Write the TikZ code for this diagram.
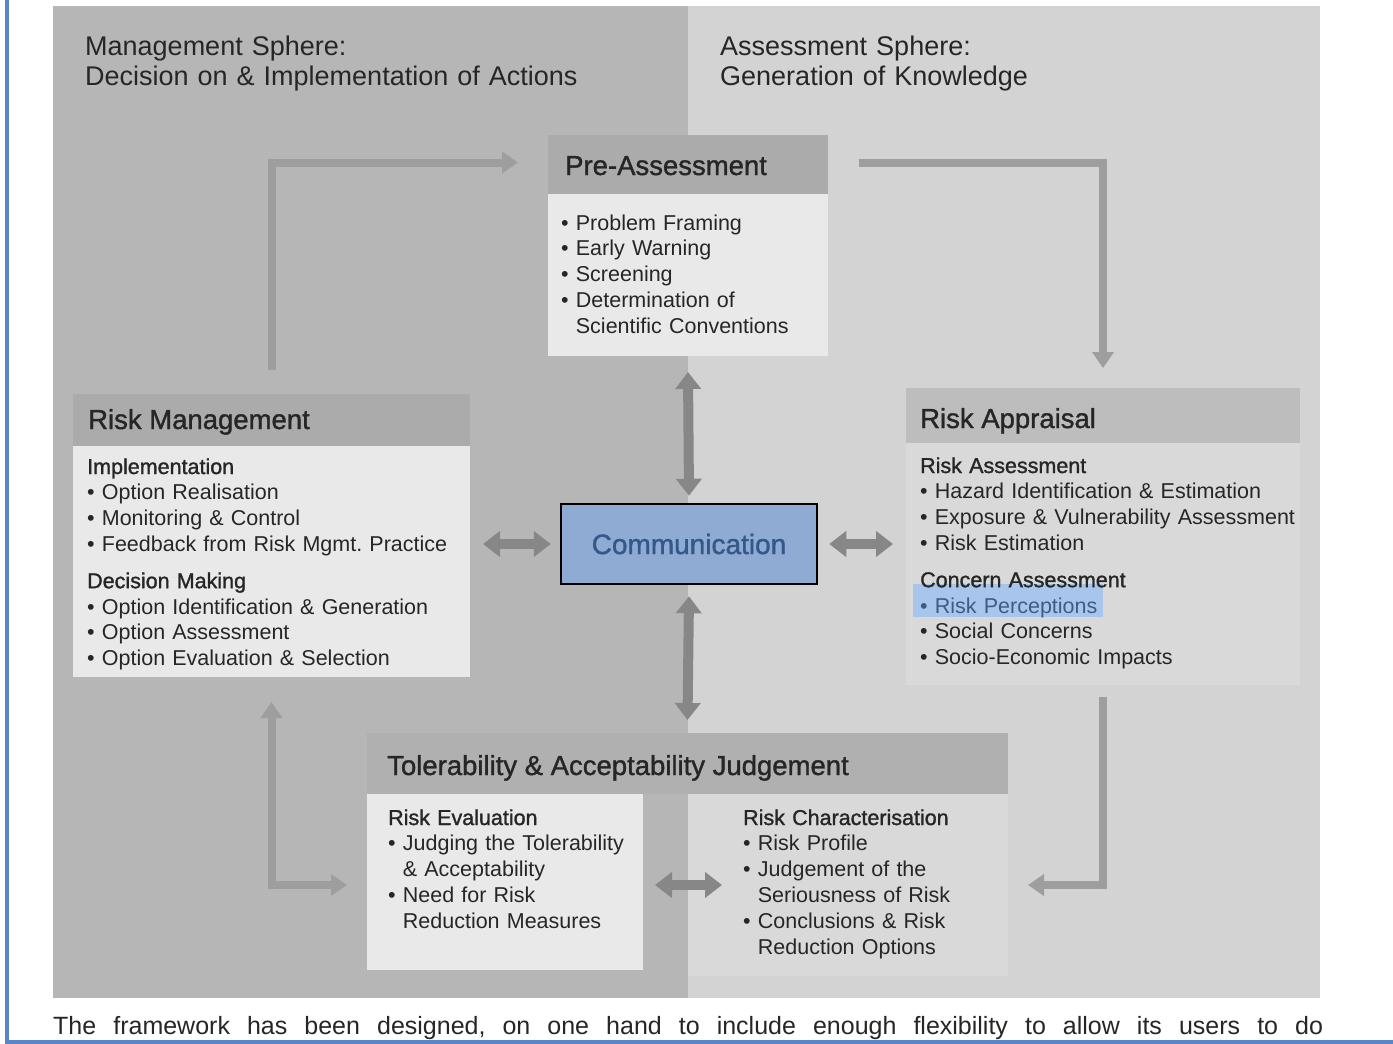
\documentclass[tikz,border=0pt]{standalone}
\usepackage{fontspec}
\setmainfont{Liberation Sans}
\newfontfamily\medfont[FakeBold=1.3]{Liberation Sans}
\usetikzlibrary{arrows.meta,calc}
\definecolor{leftgray}{HTML}{B6B6B6}
\definecolor{rightgray}{HTML}{D3D3D3}
\definecolor{bandL}{HTML}{ABABAB}
\definecolor{bandR}{HTML}{BDBDBD}
\definecolor{bandT}{HTML}{B0B0B0}
\definecolor{bodyL}{HTML}{E9E9E9}
\definecolor{bodyR}{HTML}{D9D9D9}
\definecolor{commfill}{HTML}{8FAAD3}
\definecolor{commtext}{HTML}{34588A}
\definecolor{hlfill}{HTML}{A8C5EC}
\definecolor{hltext}{HTML}{3E5C86}
\definecolor{arrL}{HTML}{9E9E9E}
\definecolor{arrD}{HTML}{878787}
\definecolor{frameblue}{HTML}{5A86C8}
\definecolor{ink}{HTML}{262626}
\newcommand{\itm}{•~}
\newcommand{\cnt}{\hphantom{•~}}
\newcommand{\subh}[1]{{\medfont\fontsize{21.5pt}{25.8pt}\selectfont #1}}
\tikzset{
  box/.style={draw=none, inner sep=0pt, outer sep=0pt, anchor=north west},
  bodytext/.style={anchor=base west, inner sep=0pt, text width=#1, align=left,
    font=\frenchspacing\fontsize{21.5pt}{25.8pt}\selectfont, text=ink},
  headtext/.style={anchor=base west, inner sep=0pt,
    font=\medfont\fontsize{27.5pt}{30pt}\selectfont, text=ink},
  spheretext/.style={anchor=base west, inner sep=0pt, text width=600pt, align=left,
    font=\fontsize{27pt}{30pt}\selectfont, text=ink},
  larrow/.style={draw=arrL, line width=8pt, -{Triangle[width=21pt,length=16pt]}},
  ldblarrow/.style={draw=arrL, line width=8pt, {Triangle[width=21pt,length=16pt]}-{Triangle[width=21pt,length=16pt]}},
  dblarrow/.style={draw=arrD, line width=10pt, {Triangle[width=25pt,length=17pt]}-{Triangle[width=25pt,length=17pt]}},
}
\begin{document}
\begin{tikzpicture}[x=1pt,y=-1pt]
\fill[white] (0,0) rectangle (1393,1044);
\useasboundingbox (0,0) rectangle (1393,1044);
% panels
\node[box, fill=leftgray, minimum width=635pt, minimum height=992pt] (leftpanel) at (53,6) {};
\node[box, fill=rightgray, minimum width=632pt, minimum height=992pt] (rightpanel) at (688,6) {};
% boxes
\node[box, fill=bandL, minimum width=280pt, minimum height=59pt] (pahead) at (548,135) {};
\node[box, fill=bodyL, minimum width=280pt, minimum height=162pt] (pabody) at (548,194) {};
\node[box, fill=bandL, minimum width=397pt, minimum height=52pt] (rmhead) at (73,394) {};
\node[box, fill=bodyL, minimum width=397pt, minimum height=231pt] (rmbody) at (73,446) {};
\node[box, fill=bandR, minimum width=394pt, minimum height=55pt] (rahead) at (906,388) {};
\node[box, fill=bodyR, minimum width=394pt, minimum height=242pt] (rabody) at (906,443) {};
\node[box, fill=bandT, minimum width=641pt, minimum height=61pt] (tjhead) at (367,733) {};
\node[box, fill=bodyL, minimum width=276pt, minimum height=176pt] (rebody) at (367,794) {};
\node[box, fill=bodyR, minimum width=320pt, minimum height=182pt] (rcbody) at (688,794) {};
\node[box, fill=hlfill, minimum width=190pt, minimum height=33pt] (rphl) at (913,584) {};
% communication
\node[draw=black, line width=2.5pt, fill=commfill, minimum width=256pt, minimum height=80pt,
  inner sep=0pt, text=commtext, font=\medfont\fontsize{28pt}{30pt}\selectfont] (comm) at (689,544) {Communication};
% sphere labels
\node[spheretext] (mgmtsphere) at (85,55) {Management Sphere:\\Decision on \& Implementation of Actions};
\node[spheretext] (asssphere) at (720,55) {Assessment Sphere:\\Generation of Knowledge};
% headers
\node[headtext] (patitle) at (565,175) {Pre-Assessment};
\node[headtext] (rmtitle) at (88,429) {Risk Management};
\node[headtext] (ratitle) at (920,428) {Risk Appraisal};
\node[headtext] (tjtitle) at (387,775) {Tolerability \& Acceptability Judgement};
% body texts
\node[bodytext=265pt] (patext) at (561,230) {\itm Problem Framing\\\itm Early Warning\\\itm Screening\\\itm Determination of\\\cnt Scientific Conventions};
\node[bodytext=380pt] (rmtext) at (87,474) {\subh{Implementation}\\\itm Option Realisation\\\itm Monitoring \& Control\\\itm Feedback from Risk Mgmt. Practice\\[11pt]\subh{Decision Making}\\\itm Option Identification \& Generation\\\itm Option Assessment\\\itm Option Evaluation \& Selection};
\node[bodytext=385pt] (ratext) at (920,473) {\subh{Risk Assessment}\\\itm Hazard Identification \& Estimation\\\itm Exposure \& Vulnerability Assessment\\\itm Risk Estimation\\[11pt]\subh{Concern Assessment}\\{\color{hltext}\itm Risk Perceptions}\\\itm Social Concerns\\\itm Socio-Economic Impacts};
\node[bodytext=255pt] (retext) at (388,825) {\subh{Risk Evaluation}\\\itm Judging the Tolerability\\\cnt\& Acceptability\\\itm Need for Risk\\\cnt Reduction Measures};
\node[bodytext=260pt] (rctext) at (743,825) {\subh{Risk Characterisation}\\\itm Risk Profile\\\itm Judgement of the\\\cnt Seriousness of Risk\\\itm Conclusions \& Risk\\\cnt Reduction Options};
% cycle arrows
\draw[larrow] ([yshift=24pt]rmhead.north) |- ([xshift=-30pt,yshift=2pt]pahead.west);
\draw[larrow] ([xshift=31pt,yshift=2pt]pahead.east) -| ([yshift=20pt]rahead.north);
\draw[larrow] ([yshift=-12pt]rabody.south) |- ([xshift=20pt]rcbody.east);
\draw[ldblarrow] ([yshift=-25pt]rmbody.south) |- ([xshift=-20pt,yshift=-3pt]rebody.west);
% communication arrows
\draw[dblarrow] ([yshift=-16pt]pabody.south) -- ([yshift=7pt]comm.north);
\draw[dblarrow] ([yshift=-11pt]comm.south) -- ([yshift=13pt]tjhead.north);
\draw[dblarrow] ([xshift=13pt]rmbody.east |- comm.west) -- ([xshift=-9pt]comm.west);
\draw[dblarrow] ([xshift=11pt]comm.east) -- ([xshift=-13pt]rabody.west |- comm.east);
\draw[dblarrow] ([xshift=12pt,yshift=-3pt]rebody.east) -- ([xshift=34pt,yshift=-3pt]rcbody.west |- rebody.east);
% page remnant line
\node[anchor=base west, inner sep=0pt, font=\frenchspacing\fontsize{25pt}{28pt}\selectfont, text=ink] (pageline) at (53,1034)
  {\makebox[1270pt][s]{The framework has been designed, on one hand to include enough flexibility to allow its users to do}};
\draw[frameblue, line width=4pt] (7,0) -- (7,1042) -- (1393,1042);
\end{tikzpicture}
\end{document}
